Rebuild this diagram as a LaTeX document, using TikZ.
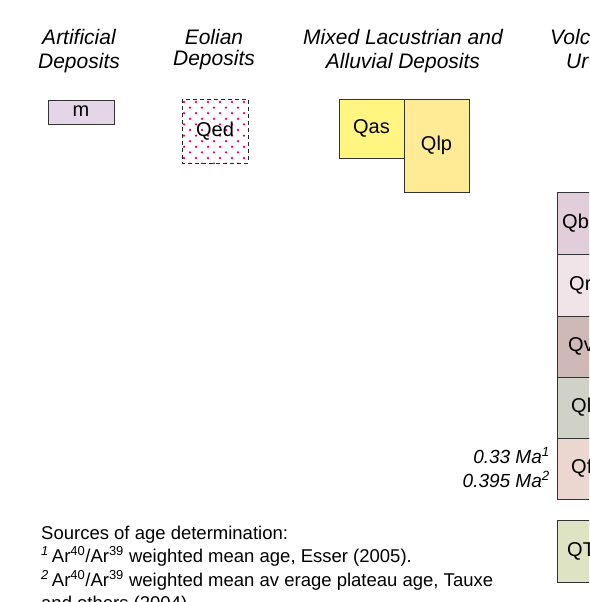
\documentclass[tikz,border=0pt]{standalone}
\usepackage{fontspec}
\setmainfont{Liberation Sans}
\begin{document}
\begin{tikzpicture}[x=1pt,y=-1pt,
  title/.style={font=\fontsize{21}{23}\selectfont\itshape, anchor=base, inner sep=0pt},
  body/.style={font=\fontsize{18.5}{22}\selectfont, anchor=base west, inner sep=0pt},
  unit/.style={draw=black!80, line width=0.8pt},
  lab/.style={font=\fontsize{20}{22}\selectfont, inner sep=0pt},
  age/.style={font=\fontsize{19}{22}\selectfont\itshape, anchor=base east, inner sep=0pt}]
\definecolor{cm}{RGB}{228,214,232}
\definecolor{cqas}{RGB}{255,245,128}
\definecolor{cqlp}{RGB}{255,234,150}
\definecolor{cqb}{RGB}{226,206,218}
\definecolor{cqr}{RGB}{240,228,232}
\definecolor{cqv}{RGB}{206,184,184}
\definecolor{cql}{RGB}{208,210,202}
\definecolor{cqf}{RGB}{235,215,208}
\definecolor{cqt}{RGB}{222,227,195}
\definecolor{dotc}{RGB}{230,0,126}
\useasboundingbox (0,0) rectangle (589,602);
\clip (0,0) rectangle (589,602);
\fill[white] (0,0) rectangle (589,602);
% titles
\node[title] (t1a) at (79,45) {Artificial};
\node[title] (t1b) at (79,68) {Deposits};
\node[title] (t2a) at (214,45) {Eolian};
\node[title] (t2b) at (214,66) {Deposits};
\node[title] (t3a) at (403,45) {Mixed Lacustrian and};
\node[title] (t3b) at (403,68) {Alluvial Deposits};
\node[title, anchor=base west] (t4a) at (550,45) {Volc};
\node[title, anchor=base west] (t4b) at (566,68) {Ur};
% m
\filldraw[unit, fill=cm] (48,100) rectangle (114,124);
\node[lab] (m) at (81,111) {m};
% Qed
\begin{scope}
\clip (182,99) rectangle (248,163);
\foreach \r in {0,...,11} {
  \pgfmathsetmacro{\yy}{102+\r*5.6}
  \pgfmathsetmacro{\off}{mod(\r,2)*6}
  \foreach \c in {0,...,6} {
    \fill[dotc] ({184+\off+\c*12},\yy) circle (1.3);
  }
}
\end{scope}
\draw[black!85, line width=0.8pt, dash pattern=on 4pt off 3pt] (182,99) rectangle (248,163);
\node[lab] (qed) at (215,131) {Qed};
% Qas / Qlp
\filldraw[unit, fill=cqas] (339,99) rectangle (404,158);
\node[lab] (qas) at (371.5,128.5) {Qas};
\filldraw[unit, fill=cqlp] (404,99) rectangle (469,192);
\node[lab] (qlp) at (436.5,145.5) {Qlp};
% volcanic column
\filldraw[unit, fill=cqb] (557,192) rectangle (625,254);
\filldraw[unit, fill=cqr] (557,254) rectangle (625,316);
\filldraw[unit, fill=cqv] (557,316) rectangle (625,377);
\filldraw[unit, fill=cql] (557,377) rectangle (625,438);
\filldraw[unit, fill=cqf] (557,438) rectangle (625,499);
\filldraw[unit, fill=cqt] (557,520) rectangle (625,582);
\node[lab, anchor=west] (qb) at (562,223) {Qb};
\node[lab, anchor=west] (qr) at (569,285) {Qr};
\node[lab, anchor=west] (qv) at (568,346) {Qv};
\node[lab, anchor=west] (ql) at (571,407) {Ql};
\node[lab, anchor=west] (qf) at (571,468) {Qf};
\node[lab, anchor=west] (qt) at (567,551) {QT};
% ages
\node[age] (a1) at (550,463) {0.33 Ma\textsuperscript{1}};
\node[age] (a2) at (550,487) {0.395 Ma\textsuperscript{2}};
% sources
\node[body] (s1) at (41,539) {Sources of age determination:};
\node[body] (s2) at (41,562) {\textsuperscript{\itshape 1}\,Ar\textsuperscript{40}/Ar\textsuperscript{39} weighted mean age, Esser (2005).};
\node[body] (s3) at (41,586) {\textsuperscript{\itshape 2}\,Ar\textsuperscript{40}/Ar\textsuperscript{39} weighted mean av erage plateau age, Tauxe};
\node[body] (s4) at (41,609) {and others (2004).};
\end{tikzpicture}
\end{document}
